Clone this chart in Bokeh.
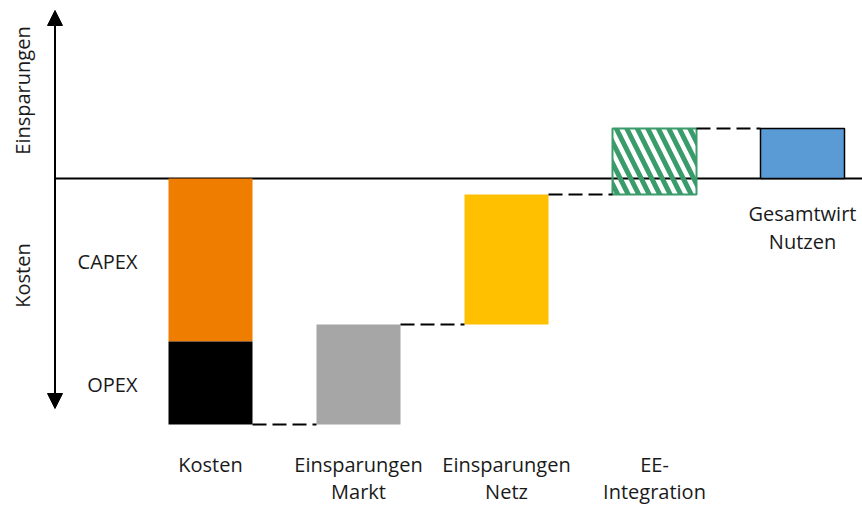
import numpy as np
from bokeh.plotting import figure
from bokeh.models import Range1d, Arrow, NormalHead, ColumnDataSource
from bokeh.core.properties import value
from bokeh.embed import file_html
from bokeh.resources import INLINE

# ---- data ----
categories = ["Kosten", "Einsparungen Markt", "Einsparungen Netz", "EE-Integration", "Gesamtwirt Nutzen"]
label_line1 = ["Kosten", "Einsparungen", "Einsparungen", "EE-", "Gesamtwirt"]
label_line2 = ["", "Markt", "Netz", "Integration", "Nutzen"]
capex = 16.3
opex = 8.3
savings = [10.0, 13.0, 6.6]          # Markt, Netz, EE-Integration
saving_colors = ["#A6A6A6", "#FFC000", None]

FONT = value("Open Sans")
TXT = "#1a1a1a"
W = 84 / 148  # bar width in category units

p = figure(width=862, height=506, output_backend="svg", toolbar_location=None,
           x_range=Range1d(-210 / 148, 652 / 148), y_range=Range1d(-32.8, 17.8),
           min_border=0, outline_line_color=None)
p.axis.visible = False
p.grid.visible = False
p.background_fill_color = "white"
p.border_fill_color = "white"

# ---- waterfall computation ----
cost_total = -(capex + opex)
levels = [cost_total]
for s in savings:
    levels.append(levels[-1] + s)
total = levels[-1]

# zero line and vertical axis arrow (drawn beneath bars)
ax_x = (54.5 - 210) / 148
p.segment(x0=[ax_x], y0=[0], x1=[p.x_range.end], y1=[0], line_color="black", line_width=2)
p.add_layout(Arrow(start=NormalHead(size=15, fill_color="black", line_color="black"),
                   end=NormalHead(size=15, fill_color="black", line_color="black"),
                   x_start=ax_x, y_start=-23.0, x_end=ax_x, y_end=16.8,
                   line_color="black", line_width=2))

# Kosten bar: CAPEX + OPEX
p.vbar(x=[0], bottom=[-capex], top=[0], width=W, fill_color="#EE7D00", line_color=None)
p.vbar(x=[0], bottom=[cost_total], top=[-capex], width=W, fill_color="#000000", line_color=None)

# savings bars
for i, s in enumerate(savings):
    xi = i + 1
    b, t = levels[i], levels[i + 1]
    if saving_colors[i] is not None:
        p.vbar(x=[xi], bottom=[b], top=[t], width=W, fill_color=saving_colors[i], line_color=None)
    else:
        p.vbar(x=[xi], bottom=[b], top=[t], width=W, fill_color=None,
               hatch_pattern="\\", hatch_color="#3A9B6B", hatch_scale=21, hatch_weight=5,
               line_color="#3A9B6B", line_width=2)

# total bar
p.vbar(x=[4], bottom=[0], top=[total], width=W, fill_color="#5B9BD5", line_color="black", line_width=1.5)

# connectors
xs0 = [i + W / 2 for i in range(4)]
xs1 = [i + 1 - W / 2 for i in range(4)]
p.segment(x0=xs0, y0=levels, x1=xs1, y1=levels, line_color="black", line_width=2, line_dash="14 6")

# category labels
xs = list(range(len(categories)))
y1 = [-28.6, -28.6, -28.6, -28.6, -3.5]
y2 = [-31.3, -31.3, -31.3, -31.3, -6.3]
src = ColumnDataSource(dict(x=xs, l1=label_line1, l2=label_line2, y1=y1, y2=y2))
p.text(x="x", y="y1", text="l1", source=src, text_font=FONT, text_font_size="20px",
       text_align="center", text_baseline="middle", text_color=TXT)
p.text(x="x", y="y2", text="l2", source=src, text_font=FONT, text_font_size="20px",
       text_align="center", text_baseline="middle", text_color=TXT)

# CAPEX / OPEX labels
lx = (137 - 210) / 148
p.text(x=[lx, lx], y=[-8.3, -20.6], text=["CAPEX", "OPEX"], text_font=FONT, text_font_size="20px",
       text_align="right", text_baseline="middle", text_color=TXT)

# rotated axis labels
rx = (22 - 210) / 148
p.text(x=[rx, rx], y=[8.8, -9.7], text=["Einsparungen", "Kosten"], angle=np.pi / 2,
       text_font=FONT, text_font_size="20px", text_align="center", text_baseline="middle",
       text_color=TXT)

open("out.html", "w").write(file_html(p, INLINE))
